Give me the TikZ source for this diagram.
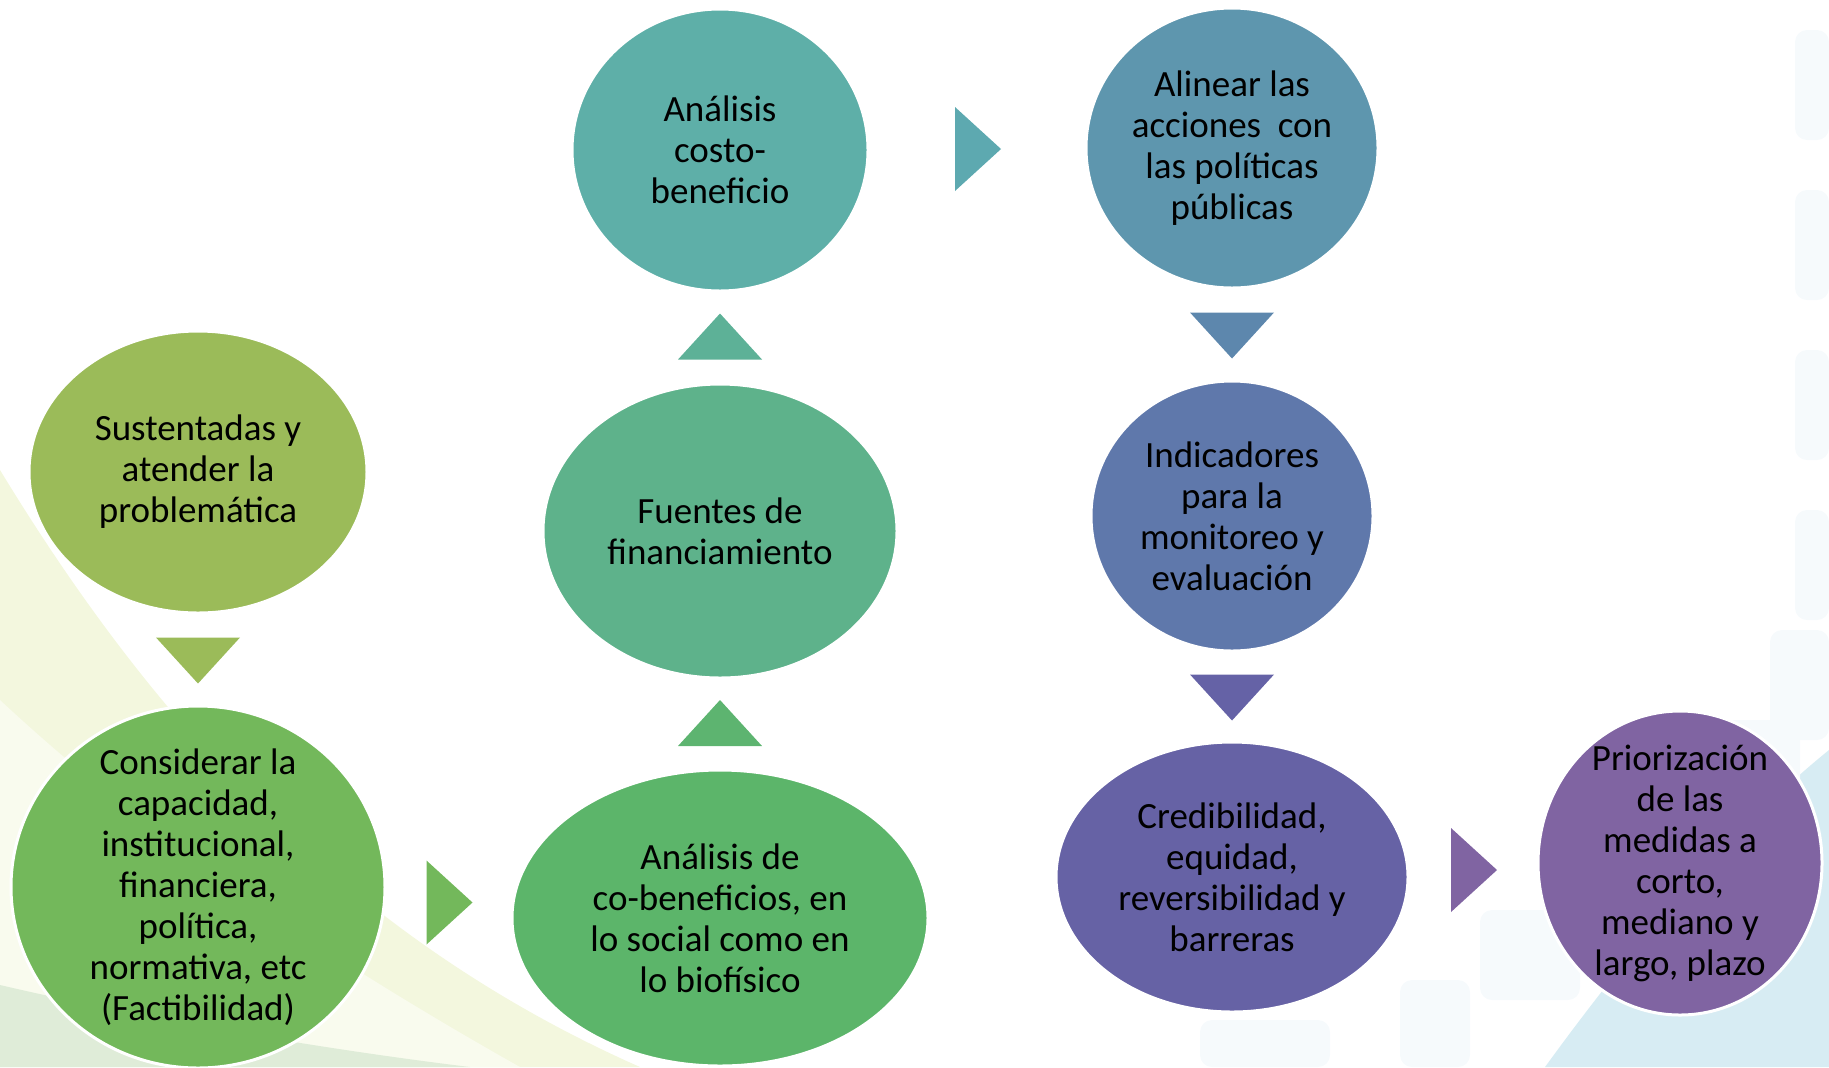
\documentclass[tikz,border=0pt]{standalone}
\usepackage{fontspec}
\setmainfont{Carlito}
\usetikzlibrary{shapes.geometric,calc}

\definecolor{cSust}{HTML}{9BBB59}
\definecolor{cCons}{HTML}{73B85B}
\definecolor{cCobe}{HTML}{5CB56A}
\definecolor{cFuen}{HTML}{5EB28B}
\definecolor{cCost}{HTML}{5EAFA8}
\definecolor{cAlin}{HTML}{5E96AE}
\definecolor{cIndi}{HTML}{5F78AB}
\definecolor{cCred}{HTML}{6662A5}
\definecolor{cPrio}{HTML}{8064A2}
\definecolor{aCobe}{HTML}{5DB470}
\definecolor{aFuen}{HTML}{5DB197}
\definecolor{aCost}{HTML}{5DA9B0}
\definecolor{aAlin}{HTML}{5D87AD}
\definecolor{aIndi}{HTML}{6562A6}
\definecolor{bgYel}{HTML}{F3F7DE}
\definecolor{bgGrn}{HTML}{DFECD8}
\definecolor{bgBlu}{HTML}{D7ECF3}
\definecolor{bgSq}{HTML}{F6FAFC}

\begin{document}
\begin{tikzpicture}[x=0.5pt,y=-0.5pt,
    bub/.style={ellipse,draw=white,line width=1.5pt,inner sep=0pt},
    txt/.style={align=center,text=black,font=\fontsize{18.5}{20.5}\selectfont},
    sq/.style={fill=bgSq,rounded corners=6pt}]
\useasboundingbox (0,0) rectangle (1829,1067);

% fondo
\fill[bgYel] (0,470) .. controls (140,700) and (330,930) .. (640,1067) -- (0,1067) -- cycle;
\fill[white!50!bgYel] (0,700) .. controls (150,840) and (330,960) .. (520,1067) -- (0,1067) -- cycle;
\fill[bgGrn] (0,985) .. controls (150,1020) and (330,1050) .. (470,1067) -- (0,1067) -- cycle;
\fill[bgBlu] (1545,1067) .. controls (1630,950) and (1730,830) .. (1829,750) -- (1829,1067) -- cycle;
\foreach \yy in {30,190,350,510} \fill[sq] (1795,\yy) rectangle (1829,\yy+110);
\fill[sq] (1770,630) rectangle (1829,740);
\fill[sq] (1700,720) rectangle (1800,820);
\fill[sq] (1630,830) rectangle (1710,930);
\fill[sq] (1480,910) rectangle (1580,1000);
\fill[sq] (1400,980) rectangle (1470,1067);
\fill[sq] (1200,1020) rectangle (1330,1067);

% elipses
\node[bub,fill=cSust,minimum width=169pt,minimum height=141pt] (sust) at (198,472) {};
\node[bub,fill=cCons,minimum width=187pt,minimum height=181pt] (cons) at (198,887) {};
\node[bub,fill=cCobe,minimum width=208pt,minimum height=148pt] (cobe) at (720,918) {};
\node[bub,fill=cFuen,minimum width=177pt,minimum height=147pt] (fuen) at (720,531) {};
\node[bub,fill=cCost,minimum width=148pt,minimum height=141pt] (cost) at (720,150) {};
\node[bub,fill=cAlin,minimum width=146pt,minimum height=140pt] (alin) at (1232,148) {};
\node[bub,fill=cIndi,minimum width=141pt,minimum height=135pt] (indi) at (1232,516) {};
\node[bub,fill=cCred,minimum width=176pt,minimum height=135pt] (cred) at (1232,877) {};
\node[bub,fill=cPrio,minimum width=142pt,minimum height=152pt] (prio) at (1680,863) {};

\node[txt] (sust-t) at (sust) {Sustentadas y\\atender la\\problemática};
\node[txt] (cons-t) at (cons) {Considerar la\\capacidad,\\institucional,\\financiera,\\política,\\normativa, etc\\(Factibilidad)};
\node[txt] (cobe-t) at (cobe) {Análisis de\\co-beneficios, en\\lo social como en\\lo biofísico};
\node[txt] (fuen-t) at (fuen) {Fuentes de\\financiamiento};
\node[txt] (cost-t) at (cost) {Análisis\\costo-\\beneficio};
\node[txt] (alin-t) at (alin) {Alinear las\\acciones\ \ con\\las políticas\\públicas};
\node[txt] (indi-t) at (indi) {Indicadores\\para la\\monitoreo y\\evaluación};
\node[txt] (cred-t) at (cred) {Credibilidad,\\equidad,\\reversibilidad y\\barreras};
\node[txt] (prio-t) at (prio) {Priorización\\de las\\medidas a\\corto,\\mediano y\\largo, plazo};

% flechas
\coordinate (m1) at ($(sust.south)!0.5!(cons.north)$);
\coordinate (m2) at ($(cons.east)!0.5!(cobe.west)$);
\coordinate (m3) at ($(cobe.north)!0.5!(fuen.south)$);
\coordinate (m4) at ($(fuen.north)!0.5!(cost.south)$);
\coordinate (m5) at ($(cost.east)!0.5!(alin.west)$);
\coordinate (m6) at ($(alin.south)!0.5!(indi.north)$);
\coordinate (m7) at ($(indi.south)!0.5!(cred.north)$);
\coordinate (m8) at ($(cred.east)!0.5!(prio.west)$);
\foreach \m/\r/\c in {m1/-90/cSust,m2/0/cCons,m3/90/aCobe,m4/90/aFuen,
                      m5/0/aCost,m6/-90/aAlin,m7/-90/aIndi,m8/0/cPrio}
  \fill[\c,shift={(\m)},rotate=\r] (-22,-42) -- (24,0) -- (-22,42) -- cycle;
\end{tikzpicture}
\end{document}
